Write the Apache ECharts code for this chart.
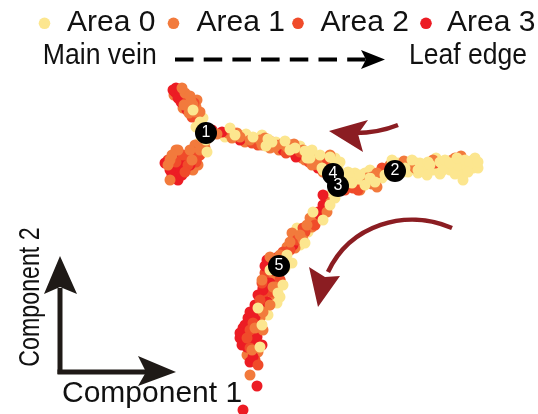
<!DOCTYPE html>
<html>
<head>
<meta charset="utf-8">
<script src="https://cdn.jsdelivr.net/npm/echarts@6/dist/echarts.min.js"></script>
<style>
  html, body { margin: 0; padding: 0; background: #fff; }
  #chart { width: 538px; height: 414px; }
</style>
</head>
<body>
<div id="chart"></div>
<script>
// Cells on the pseudotime trajectory, [Component 1, Component 2], grouped by sampling area.
const areaNames = ['Area 0', 'Area 1', 'Area 2', 'Area 3'];
const areaColors = ['#FCE68F', '#F27A3C', '#F04B2A', '#EC1C24'];

const area0 = [
  [19.8,-11.5],[20.0,-12.2],[19.6,-12.7],[20.2,-13.7],[20.3,-14.7],[20.7,-15.2],[20.3,-11.8],[19.3,-11.0],
  [19.9,-14.3],[20.6,-14.0],
  [22.5,-13.7],[23.0,-12.8],[24.8,-13.8],[25.3,-13.7],[25.7,-14.3],[27.2,-14.2],[28.0,-14.5],
  [29.5,-14.8],[30.3,-15.5],[31.0,-15.8],[31.7,-16.0],[32.2,-16.8],[32.7,-16.3],[33.0,-15.7],
  [33.3,-16.0],[30.7,-15.8],[31.7,-16.3],[32.3,-17.0],[33.5,-15.8],[34.0,-16.2],[26.2,-13.5],
  [28.5,-14.1],[30.0,-14.6],[31.2,-15.0],[32.6,-15.8],[33.8,-16.8],[34.3,-18.0],
  [23.5,-13.5],[24.3,-14.0],[26.8,-13.9],[27.6,-14.2],[29.0,-15.0],[29.8,-15.5],[30.5,-15.1],
  [31.5,-16.0],[32.0,-15.5],[33.7,-16.3],[26.6,-14.6],[24.6,-13.4],
  [35.0,-17.7],[35.5,-17.3],[36.0,-17.5],[36.5,-17.3],[37.5,-18.2],[38.0,-17.2],[36.5,-18.5],
  [35.7,-18.2],[34.5,-18.3],[37.0,-17.0],[38.5,-17.5],[38.8,-16.8],[40.5,-16.8],[41.0,-16.5],
  [42.0,-16.3],[42.5,-16.7],[44.0,-16.2],[44.7,-16.5],[45.8,-16.5],[46.3,-16.2],[46.7,-16.7],
  [47.3,-16.8],[46.3,-17.5],[45.0,-17.0],[44.3,-17.0],[43.3,-17.0],[41.8,-17.0],[41.7,-16.3],
  [46.5,-16.0],[47.3,-16.0],[46.3,-18.0],[41.8,-17.3],[42.8,-16.2],[45.5,-16.7],[47.0,-16.3],
  [39.8,-16.3],[40.3,-17.2],[43.8,-16.7],[44.5,-16.0],[46.0,-17.0],[47.8,-16.2],[47.5,-15.8],
  [35.2,-18.3],[36.2,-18.0],[37.0,-17.8],[38.2,-17.8],[39.2,-16.0],[40.8,-17.2],[41.2,-16.0],
  [42.3,-17.1],[43.0,-16.5],[43.6,-15.8],[45.0,-16.3],[45.5,-17.4],[46.8,-17.2],[47.8,-16.8],
  [45.7,-15.8],[44.0,-17.4],[42.7,-17.5],[34.8,-17.2],
  [32.3,-22.0],[30.8,-23.2],[30.5,-24.3],[29.2,-26.3],[27.0,-27.0],[28.0,-29.7],[27.8,-29.3],
  [27.7,-30.3],[25.8,-30.8],[25.8,-34.3],[26.0,-34.7],[33.0,-19.5],[33.5,-19.8],[29.7,-22.8],
  [28.5,-26.8],[28.2,-25.8],[31.3,-21.2],[30.0,-24.5],[28.7,-25.5],[27.5,-27.5],[28.3,-28.5],
  [26.8,-31.5],[26.2,-32.5],[25.5,-34.5],[33.0,-20.5]
];

const area1 = [
  [18.0,-9.5],[18.5,-9.3],[18.8,-10.0],[19.3,-10.5],[19.7,-10.0],[19.5,-11.2],[18.3,-10.8],[19.0,-9.6],
  [17.4,-9.5],[18.2,-8.8],[18.6,-9.7],[19.1,-10.1],[19.6,-10.7],[18.4,-10.5],[20.0,-11.2],[18.9,-11.3],
  [20.5,-14.2],[20.0,-15.0],[18.2,-15.7],[17.0,-16.0],[18.5,-16.2],[19.2,-16.0],[19.7,-15.8],
  [17.0,-18.0],[19.5,-14.5],[17.8,-15.0],[18.3,-16.8],[17.2,-15.5],[17.6,-15.0],[19.0,-15.0],
  [19.8,-16.5],[16.8,-16.5],[19.3,-17.0],[20.5,-14.8],
  [22.8,-13.3],[24.0,-13.7],[24.5,-14.2],[26.0,-14.0],[26.7,-14.3],[27.5,-14.7],[27.0,-14.8],
  [28.7,-14.7],[29.7,-15.3],[30.7,-15.3],[30.5,-16.0],[31.8,-16.5],[32.3,-17.2],[30.3,-15.0],
  [30.8,-15.3],[31.8,-15.7],[32.2,-16.5],[33.0,-15.5],[23.7,-13.3],[25.0,-14.0],[26.5,-13.8],
  [28.2,-14.4],[29.2,-14.7],[31.3,-15.5],[32.8,-16.8],[23.2,-13.8],[25.6,-14.0],[26.2,-14.5],
  [27.9,-15.0],[29.4,-14.4],[30.2,-15.8],[31.2,-16.5],[32.5,-16.0],[21.7,-13.4],
  [36.7,-17.8],[37.7,-17.3],[37.7,-18.7],[41.5,-16.8],[41.3,-16.5],[43.3,-16.0],[45.2,-16.0],
  [45.5,-15.8],[39.0,-16.5],[37.2,-18.4],[36.0,-19.0],[40.4,-16.1],[46.1,-15.6],
  [32.7,-21.2],[31.0,-21.8],[30.7,-22.5],[31.2,-22.7],[30.0,-23.5],[29.2,-23.3],[29.0,-24.2],
  [28.7,-24.7],[27.0,-25.7],[27.3,-27.7],[27.5,-28.7],[27.0,-29.5],[27.3,-28.7],[26.2,-29.8],
  [26.3,-31.2],[26.0,-31.8],[26.3,-33.0],[25.2,-33.5],[25.2,-35.0],[24.7,-35.5],[25.0,-37.5],
  [32.7,-20.2],[28.3,-26.2],[26.5,-30.5],[25.5,-32.8],[31.8,-22.0],[30.3,-24.0],[29.5,-24.8],
  [28.0,-25.5],[26.8,-26.5],[26.2,-28.0],[28.0,-28.0],[27.0,-30.5],[25.8,-35.2]
];

const area2 = [
  [19.2,-11.7],[18.6,-10.3],[18.2,-10.0],[19.1,-11.0],[17.9,-9.3],[19.4,-10.3],[18.7,-10.7],
  [19.3,-15.2],[17.8,-16.3],[18.8,-16.5],[20.0,-15.5],[19.0,-15.7],[17.5,-15.5],[18.5,-17.2],
  [16.8,-16.0],[18.3,-15.5],[18.6,-16.8],[17.6,-16.2],[19.6,-16.2],
  [23.2,-13.2],[29.2,-15.2],[30.0,-15.2],[31.3,-16.2],[32.8,-17.3],[27.6,-14.5],[25.8,-14.5],[32.0,-16.0],
  [25.2,-14.3],[27.0,-14.1],[28.6,-15.3],[30.9,-16.2],[32.3,-16.5],
  [37.2,-17.7],[35.3,-18.8],[43.5,-16.3],[35.8,-19.0],[34.5,-19.0],[38.2,-16.8],
  [30.3,-22.8],[28.3,-25.2],[26.5,-27.3],[25.3,-32.3],[24.8,-34.0],[25.8,-36.5],[26.8,-28.3],
  [29.7,-24.0],[28.0,-28.0],[26.0,-30.0],[25.7,-31.2],[25.0,-33.0],[26.3,-29.5],
  [31.5,-22.5],[30.5,-23.2],[29.0,-25.0],[27.3,-26.2],[26.2,-28.3],[27.2,-29.2],[24.7,-33.8],
  [25.5,-36.0],[25.0,-34.8]
];

const area3 = [
  [17.5,-9.2],[17.8,-9.8],[18.7,-11.0],[18.0,-9.0],[17.6,-8.8],[18.1,-10.2],[17.3,-9.0],
  [18.7,-15.5],[17.7,-15.8],[17.3,-16.5],[18.0,-17.0],[17.5,-17.0],[17.2,-17.5],[18.2,-16.0],[17.8,-18.0],
  [17.0,-17.0],[19.0,-16.5],[18.2,-17.5],[16.5,-16.3],
  [22.2,-13.2],[28.3,-15.0],[29.0,-14.5],[21.2,-13.0],[24.0,-14.0],[29.6,-15.7],[31.8,-16.8],
  [32.3,-19.5],
  [32.3,-20.5],[31.8,-21.2],[30.0,-23.8],[27.8,-25.7],[26.7,-26.0],[26.8,-28.3],[26.3,-29.0],
  [27.0,-28.3],[26.3,-28.8],[26.7,-30.2],[25.5,-31.7],[25.0,-32.2],[24.7,-33.0],[24.5,-33.3],
  [25.7,-33.7],[24.7,-34.7],[25.3,-35.7],[25.7,-38.6],[24.3,-41.0],[24.0,-33.8],[24.5,-32.5],
  [26.2,-34.5],[25.0,-31.2],[27.5,-26.2],[26.5,-26.6],[24.2,-34.5],[25.5,-30.5],
  [32.0,-21.5],[29.3,-24.5],[27.2,-27.0],[25.8,-29.5],[24.3,-32.8],[24.0,-33.3],[25.2,-34.5],
  [25.8,-32.7],[24.8,-31.8],[24.5,-34.5],[25.0,-36.2]
];

const areaPoints = [area0, area1, area2, area3];

// Principal graph branches
const trajectory = [
  [[20.6,-13.3],[19.6,-11.8],[18.6,-10.4],[18.0,-9.6]],
  [[20.6,-13.3],[20.3,-14.5],[19.5,-15.5],[18.2,-16.3]],
  [[20.6,-13.3],[22.5,-13.4],[25.0,-13.9],[27.5,-14.5],[30.0,-15.3],[32.0,-16.3],[33.3,-17.4],[33.8,-18.6]],
  [[33.8,-18.6],[35.5,-18.0],[37.5,-17.6],[39.5,-17.1],[41.5,-16.6],[43.0,-16.5]],
  [[33.8,-18.6],[32.5,-20.3],[31.0,-22.2],[29.5,-24.2],[27.9,-26.6],[27.0,-29.0],[26.2,-31.5]]
];

// Branch points
const nodeLabels = ['1', '2', '4', '3', '5'];
const nodePositions = [[20.6,-13.3],[39.5,-17.1],[33.3,-17.4],[33.8,-18.6],[27.9,-26.6]];

const FONT = "'Liberation Sans', Arial, Helvetica, sans-serif";
const INK = '#111111';
const ARROW_RED = '#8B1D22';
const AXIS_INK = '#1f1a17';

const chart = echarts.init(document.getElementById('chart'), null, { renderer: 'canvas' });

// Cells are painted in two interleaved passes so that no single area hides the others.
const pass = (i, parity) => ({
  type: 'scatter',
  name: areaNames[i],
  data: areaPoints[i].filter((_, k) => k % 2 === parity),
  symbol: 'circle',
  symbolSize: 11,
  itemStyle: { color: areaColors[i], opacity: 1 },
  z: 3,
  silent: true
});
const scatterSeries = [
  ...[0, 1, 2, 3].map(i => pass(i, 0)),
  ...[3, 2, 1, 0].map(i => pass(i, 1))
];

// Legend row and direction note
const legendDots = [44.5, 173.5, 298, 426];
const legendTextX = [67, 196.5, 320.5, 447];
const graphics = [];
areaNames.forEach((name, i) => {
  graphics.push({
    type: 'circle', shape: { cx: legendDots[i], cy: 23.3, r: 5.8 },
    style: { fill: areaColors[i] }, z: 10
  });
  graphics.push({
    type: 'text', x: legendTextX[i], y: 22.8, z: 10,
    style: { text: name, font: '30px ' + FONT, fill: INK, textAlign: 'left', textVerticalAlign: 'middle' }
  });
});
graphics.push(
  { type: 'text', x: 42.7, y: 56, scaleX: 0.888, z: 10,
    style: { text: 'Main vein', font: '30px ' + FONT, fill: INK, textAlign: 'left', textVerticalAlign: 'middle' } },
  { type: 'line', shape: { x1: 175, y1: 59.5, x2: 366, y2: 59.5 }, z: 10,
    style: { stroke: '#000', lineWidth: 4, lineDash: [18.5, 10.2] } },
  { type: 'polygon', shape: { points: [[385, 59.5], [361, 50], [366, 59.5], [361, 69]] }, z: 10,
    style: { fill: '#000' } },
  { type: 'text', x: 409, y: 56, scaleX: 0.885, z: 10,
    style: { text: 'Leaf edge', font: '30px ' + FONT, fill: INK, textAlign: 'left', textVerticalAlign: 'middle' } }
);

// Direction arrows along the trajectory
graphics.push(
  { type: 'bezierCurve', shape: { x1: 398, y1: 125, cpx1: 378, cpy1: 133, x2: 355, y2: 133 }, z: 10,
    style: { stroke: ARROW_RED, lineWidth: 4.5, fill: null } },
  { type: 'polygon', shape: { points: [[329, 131], [368, 120], [358, 134], [363, 152]] }, z: 10,
    style: { fill: ARROW_RED } },
  { type: 'bezierCurve', shape: { x1: 452, y1: 228, cpx1: 405, cpy1: 208, cpx2: 350, cpy2: 225, x2: 328, y2: 272 }, z: 10,
    style: { stroke: ARROW_RED, lineWidth: 4.5, fill: null } },
  { type: 'polygon', shape: { points: [[318, 307], [309, 267], [325, 277], [340, 276]] }, z: 10,
    style: { fill: ARROW_RED } }
);

// Component axes glyph
graphics.push(
  { type: 'line', shape: { x1: 60, y1: 374, x2: 60, y2: 288 }, z: 10,
    style: { stroke: AXIS_INK, lineWidth: 5 } },
  { type: 'polygon', shape: { points: [[60, 256], [44, 294], [60, 287], [77, 294]] }, z: 10,
    style: { fill: AXIS_INK } },
  { type: 'line', shape: { x1: 57.5, y1: 372, x2: 146, y2: 372 }, z: 10,
    style: { stroke: AXIS_INK, lineWidth: 5 } },
  { type: 'polygon', shape: { points: [[176, 372], [138, 356], [146, 372], [138, 386]] }, z: 10,
    style: { fill: AXIS_INK } },
  { type: 'text', x: 62, y: 393.3, z: 10,
    style: { text: 'Component 1', font: '30px ' + FONT, fill: INK, textAlign: 'left', textVerticalAlign: 'middle' } },
  { type: 'text', x: 31, y: 297, rotation: Math.PI / 2, scaleX: 0.8, z: 10,
    style: { text: 'Component 2', font: '29px ' + FONT, fill: INK, textAlign: 'center', textVerticalAlign: 'middle' } }
);

chart.setOption({
  animation: false,
  backgroundColor: '#ffffff',
  grid: { left: 0, right: 0, top: 0, bottom: 0, containLabel: false },
  xAxis: { type: 'value', min: 0, max: 53.8, show: false },
  yAxis: { type: 'value', min: -41.4, max: 0, show: false },
  series: [
    {
      type: 'lines',
      coordinateSystem: 'cartesian2d',
      polyline: true,
      silent: true,
      z: 2,
      lineStyle: { color: '#141414', width: 4.5, opacity: 1 },
      data: trajectory.map(c => ({ coords: c }))
    },
    ...scatterSeries,
    {
      type: 'scatter',
      name: 'branch points',
      data: nodePositions,
      symbol: 'circle',
      symbolSize: 22,
      z: 5,
      silent: true,
      itemStyle: { color: '#000000', opacity: 1 },
      label: {
        show: true,
        position: 'inside',
        color: '#ffffff',
        fontFamily: FONT,
        fontSize: 16,
        formatter: p => nodeLabels[p.dataIndex]
      }
    }
  ],
  graphic: graphics
});
</script>
</body>
</html>
